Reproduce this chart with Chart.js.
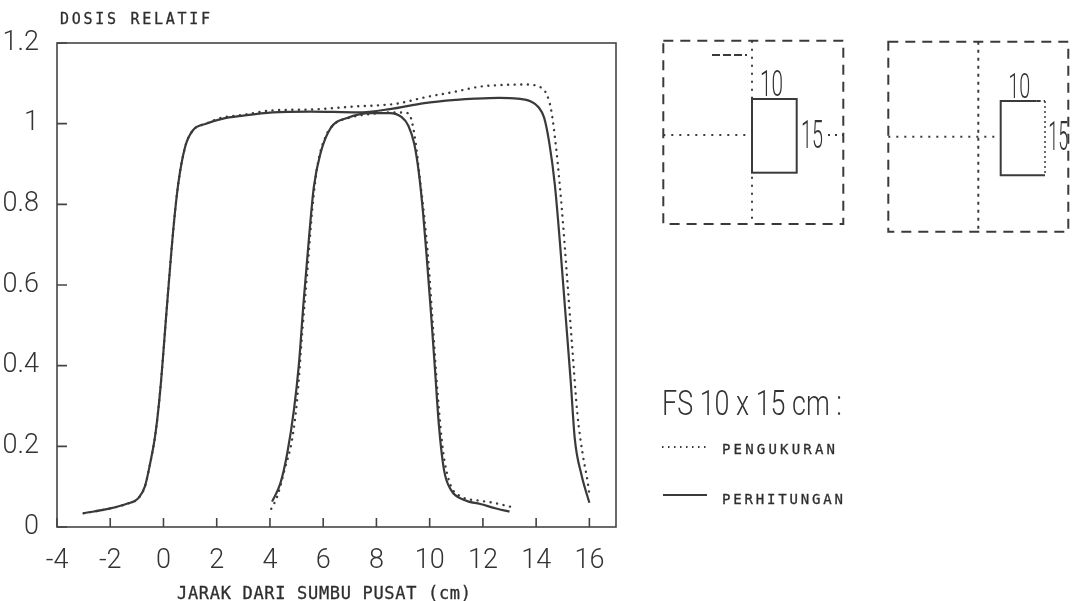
<!DOCTYPE html>
<html>
<head>
<meta charset="utf-8">
<script src="https://cdn.jsdelivr.net/npm/chart.js@4.4.1/dist/chart.umd.min.js"></script>
<style>
    html, body { margin: 0; padding: 0; background: #fff; }
    #wrap { position: relative; width: 1073px; height: 601px; }
    #wrap canvas { position: absolute; left: 0; top: 0; }
    #overlay { position: absolute; left: 0; top: 0; pointer-events: none; }
</style>
</head>
<body>
<div id="wrap">
    <canvas id="doseChart" width="1073" height="601"></canvas>
    <svg id="overlay" width="1073" height="601" xmlns="http://www.w3.org/2000/svg">
        <g font-family="'DejaVu Sans Mono', monospace" fill="#2e2e2e" stroke="#2e2e2e" stroke-width="0.3">
            <text x="60" y="24" font-size="15" textLength="150" lengthAdjust="spacing">DOSIS RELATIF</text>
            <text x="177" y="599" font-size="17" textLength="294" lengthAdjust="spacing">JARAK DARI SUMBU PUSAT (cm)</text>
        </g>

        <!-- field diagrams -->
        <g transform="translate(640,20)" stroke="#3a3a3a" fill="none" stroke-width="2">
            <rect x="23.3" y="20.7" width="180" height="183.3" stroke-dasharray="10 7"/>
            <line x1="112" y1="20.7" x2="112" y2="204" stroke-dasharray="2 6"/>
            <line x1="23.3" y1="115" x2="112" y2="115" stroke-dasharray="2 6"/>
            <line x1="188" y1="115" x2="203" y2="115" stroke-dasharray="2 5"/>
            <line x1="72" y1="35" x2="107" y2="35" stroke-dasharray="8 3"/>
            <rect x="112" y="79" width="44.7" height="73.7"/>

            <rect x="248.3" y="21.7" width="180" height="190" stroke-dasharray="10 7"/>
            <line x1="338.3" y1="21.7" x2="338.3" y2="211.7" stroke-dasharray="3 5"/>
            <line x1="248.3" y1="116.7" x2="360.7" y2="116.7" stroke-dasharray="2 6"/>
            <polyline points="396.7,81 360.7,81 360.7,155.3 405,155.3"/>
            <line x1="396.7" y1="81" x2="405" y2="81" stroke-dasharray="4 3"/>
            <line x1="405" y1="81" x2="405" y2="155.3" stroke-dasharray="2 3" stroke-width="1.5"/>
        </g>
        <g transform="translate(640,20)" font-family="Roboto, 'DejaVu Sans', sans-serif" font-weight="300" fill="#333">
            <text x="120" y="76" font-size="36" textLength="23" lengthAdjust="spacingAndGlyphs">10</text>
            <text x="161" y="128.3" font-size="38" textLength="22" lengthAdjust="spacingAndGlyphs">15</text>
            <text x="368.3" y="78.3" font-size="35" textLength="22" lengthAdjust="spacingAndGlyphs">10</text>
            <text x="408.3" y="130" font-size="40" textLength="20" lengthAdjust="spacingAndGlyphs">15</text>
        </g>

        <!-- legend -->
        <text x="662" y="415" font-family="Roboto, 'DejaVu Sans', sans-serif" font-weight="300" font-size="35" fill="#333" textLength="180" lengthAdjust="spacingAndGlyphs">FS 10 x 15 cm :</text>
        <line x1="662" y1="447" x2="707" y2="447" stroke="#3a3a3a" stroke-width="2" stroke-dasharray="1.5 4.5"/>
        <line x1="663" y1="495" x2="707" y2="495" stroke="#3a3a3a" stroke-width="2"/>
        <g font-family="'DejaVu Sans Mono', monospace" font-size="14" fill="#2e2e2e" stroke="#2e2e2e" stroke-width="0.3">
            <text x="722" y="454" textLength="113" lengthAdjust="spacing">PENGUKURAN</text>
            <text x="722" y="504" textLength="121" lengthAdjust="spacing">PERHITUNGAN</text>
        </g>
    </svg>
</div>

<script>
// Axis ticks
const xTickValues = [-4, -2, 0, 2, 4, 6, 8, 10, 12, 14, 16];
const xTickLabels = ['-4', '-2', '0', '2', '4', '6', '8', '10', '12', '14', '16'];
const yTickValues = [0, 0.2, 0.4, 0.6, 0.8, 1, 1.2];
const yTickLabels = ['0', '0.2', '0.4', '0.6', '0.8', '1', '1.2'];

// Wide profile - calculation (solid)
const wideCalcX = [-3, -2, -1.4, -0.95, -0.7, -0.5, -0.3, -0.12, 0.13, 0.38, 0.56, 0.82, 1.1, 1.6, 2.2, 3,
    4.1, 5.5, 7.3, 8.5, 9.8, 11, 11.7, 12.6, 13.3, 13.8, 14.1, 14.3, 14.5, 14.7, 14.9, 15.1, 15.3, 15.45, 15.7, 16];
const wideCalcY = [0.034, 0.046, 0.057, 0.071, 0.10, 0.158, 0.232, 0.34, 0.547, 0.745, 0.853, 0.944, 0.983, 1.0, 1.012, 1.02,
    1.028, 1.03, 1.028, 1.036, 1.051, 1.059, 1.062, 1.064, 1.062, 1.055, 1.04, 1.015, 0.95, 0.85, 0.7, 0.53, 0.36, 0.22, 0.13, 0.06];

// Wide profile - measurement (dotted)
const wideMeasX = [-3, -2, -1.4, -0.95, -0.7, -0.5, -0.3, -0.12, 0.13, 0.38, 0.56, 0.82, 1.1, 1.6, 2.2, 3,
    4.1, 5.5, 7.3, 8.2, 8.8, 9.8, 11, 11.9, 12.8, 13.6, 14.2, 14.4, 14.56, 14.75, 14.95, 15.15, 15.35, 15.55, 15.75, 15.94, 16];
const wideMeasY = [0.034, 0.046, 0.057, 0.071, 0.10, 0.158, 0.232, 0.34, 0.547, 0.745, 0.853, 0.944, 0.983, 1.0, 1.015, 1.022,
    1.033, 1.035, 1.043, 1.046, 1.05, 1.065, 1.08, 1.092, 1.096, 1.097, 1.089, 1.072, 1.035, 0.94, 0.8, 0.63, 0.45, 0.28, 0.18, 0.11, 0.08];

// Narrow profile - calculation (solid)
const narrowCalcX = [4.08, 4.39, 4.65, 4.9, 5.08, 5.27, 5.46, 5.65, 5.9, 6.28, 6.9, 7.8, 8.5, 8.95, 9.2, 9.42,
    9.6, 9.75, 9.9, 10.05, 10.2, 10.35, 10.54, 10.8, 11.3, 11.9, 12.5, 13.0];
const narrowCalcY = [0.063, 0.108, 0.183, 0.29, 0.398, 0.563, 0.712, 0.844, 0.927, 0.989, 1.014, 1.026, 1.026, 1.016, 0.995, 0.95,
    0.875, 0.78, 0.66, 0.53, 0.39, 0.25, 0.141, 0.092, 0.067, 0.057, 0.046, 0.038];

// Narrow profile - measurement (dotted)
const narrowMeasX = [4.05, 4.27, 4.58, 4.83, 5.02, 5.21, 5.4, 5.59, 5.78, 6.09, 6.4, 7.0, 7.8, 8.6, 9.2, 9.35,
    9.5, 9.62, 9.78, 9.95, 10.12, 10.3, 10.5, 10.75, 11.2, 11.8, 12.4, 13.05];
const narrowMeasY = [0.045, 0.075, 0.15, 0.216, 0.315, 0.48, 0.63, 0.787, 0.894, 0.968, 0.998, 1.015, 1.024, 1.028, 1.026, 1.0,
    0.94, 0.87, 0.78, 0.66, 0.5, 0.33, 0.19, 0.11, 0.075, 0.066, 0.06, 0.05];

const ink = '#3a3a3a';
const toPoints = (xs, ys) => xs.map((x, i) => ({ x: x, y: ys[i] }));

function solidSet(label, xs, ys) {
    return {
        label: label, data: toPoints(xs, ys), showLine: true,
        borderColor: ink, borderWidth: 2.2, pointRadius: 0,
        cubicInterpolationMode: 'monotone', fill: false
    };
}

function dottedSet(label, xs, ys) {
    return {
        label: label, data: toPoints(xs, ys), showLine: true,
        borderColor: ink, borderWidth: 2.4, borderDash: [0.1, 6.5], borderCapStyle: 'round',
        pointRadius: 0, cubicInterpolationMode: 'monotone', fill: false
    };
}

// box round the plot + inward tick marks
const frameTicks = {
    id: 'frameTicks',
    afterDatasetsDraw(chart) {
        const { ctx, chartArea: a, scales: { x, y } } = chart;
        ctx.save();
        ctx.strokeStyle = '#454545';
        ctx.lineWidth = 1.6;
        ctx.strokeRect(a.left, a.top, a.right - a.left, a.bottom - a.top);
        ctx.beginPath();
        xTickValues.forEach(v => {
            const px = x.getPixelForValue(v);
            ctx.moveTo(px, a.bottom);
            ctx.lineTo(px, a.bottom - 9);
        });
        yTickValues.forEach(v => {
            const py = y.getPixelForValue(v);
            ctx.moveTo(a.left, py);
            ctx.lineTo(a.left + 10, py);
        });
        ctx.stroke();
        ctx.restore();
    }
};

const tickFont = { family: "Roboto, 'DejaVu Sans', sans-serif", size: 27, weight: '300' };

new Chart(document.getElementById('doseChart'), {
    type: 'scatter',
    plugins: [frameTicks],
    data: {
        datasets: [
            dottedSet('PENGUKURAN', wideMeasX, wideMeasY),
            solidSet('PERHITUNGAN', wideCalcX, wideCalcY),
            dottedSet('PENGUKURAN', narrowMeasX, narrowMeasY),
            solidSet('PERHITUNGAN', narrowCalcX, narrowCalcY)
        ]
    },
    options: {
        responsive: false,
        animation: false,
        layout: { padding: { top: 43, right: 457, bottom: 0, left: 0 } },
        plugins: { legend: { display: false }, tooltip: { enabled: false } },
        scales: {
            x: {
                type: 'linear', min: -4, max: 17,
                afterBuildTicks: s => { s.ticks = xTickValues.map(v => ({ value: v })); },
                afterFit: s => { s.height = 74; },
                ticks: {
                    callback: (v, i) => xTickLabels[i],
                    font: tickFont, color: '#333', padding: 10,
                    maxRotation: 0, autoSkip: false
                },
                grid: { display: false },
                border: { display: false }
            },
            y: {
                type: 'linear', min: 0, max: 1.2,
                afterBuildTicks: s => { s.ticks = yTickValues.map(v => ({ value: v })); },
                afterFit: s => { s.width = 57; },
                ticks: {
                    callback: (v, i) => yTickLabels[i],
                    font: tickFont, color: '#333', padding: 10, autoSkip: false
                },
                grid: { display: false },
                border: { display: false }
            }
        }
    }
});
</script>
</body>
</html>
